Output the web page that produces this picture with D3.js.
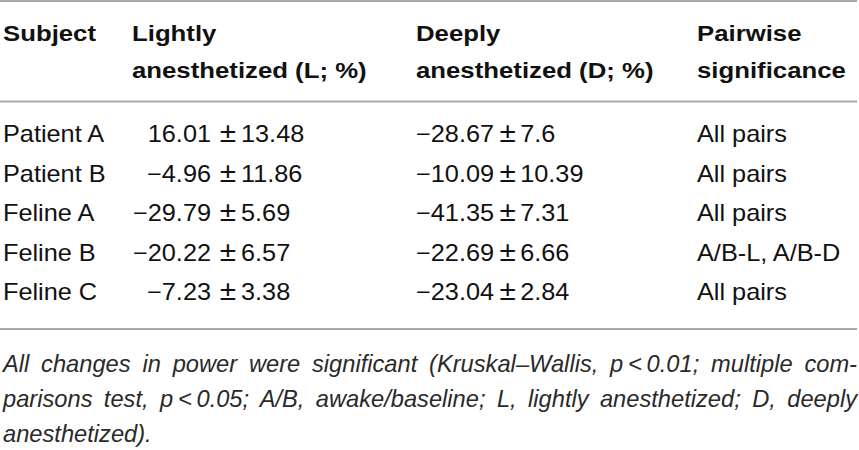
<!DOCTYPE html>
<html>
<head>
<meta charset="utf-8">
<script src="https://cdn.jsdelivr.net/npm/d3@7"></script>
<style>
  html, body { margin: 0; padding: 0; background: #fff; }
  svg { display: block; }
</style>
</head>
<body>
<div id="table"></div>
<script>
// table values
var headers = [["Subject"], ["Lightly", "anesthetized (L; %)"], ["Deeply", "anesthetized (D; %)"], ["Pairwise", "significance"]];
var subjects = ["Patient A", "Patient B", "Feline A", "Feline B", "Feline C"];
var lightMean = [16.01, -4.96, -29.79, -20.22, -7.23];
var lightSD = [13.48, 11.86, 5.69, 6.57, 3.38];
var deepMean = [-28.67, -10.09, -41.35, -22.69, -23.04];
var deepSD = [7.6, 10.39, 7.31, 6.66, 2.84];
var pairwise = ["All pairs", "All pairs", "All pairs", "A/B-L, A/B-D", "All pairs"];
var footnote = [
  "All changes in power were significant (Kruskal\u2013Wallis, p\u2009<\u20090.01; multiple com-",
  "parisons test, p\u2009<\u20090.05; A/B, awake/baseline; L, lightly anesthetized; D, deeply",
  "anesthetized)."
];

var width = 859, height = 450;
var font = "'Liberation Sans', Arial, Helvetica, sans-serif";
var sx = 1.1;    // reference glyphs run a little wide
var footSx = 1.03;

var svg = d3.select("#table").append("svg")
  .attr("width", width)
  .attr("height", height);

// column positions
var colX = [3, 132, 416, 697];
var y = d3.scalePoint().domain(subjects).range([142, 300]);

function num(v) {
  return String(v).replace("-", "\u2212");
}

function put(g, x, yy, txt, anchor, scale) {
  return g.append("text")
    .attr("transform", "translate(" + x + "," + yy + ") scale(" + (scale || sx) + ",1)")
    .attr("text-anchor", anchor || "start")
    .text(txt);
}

// rules
[1, 101.5, 329].forEach(function (ry) {
  svg.append("line")
    .attr("x1", 0).attr("x2", 857)
    .attr("y1", ry).attr("y2", ry)
    .attr("stroke", "#a8a8a8")
    .attr("stroke-width", 2);
});

// header
var head = svg.append("g")
  .style("font", "bold 23px " + font)
  .attr("fill", "#111");
headers.forEach(function (lines, i) {
  lines.forEach(function (l, j) {
    put(head, colX[i], 41 + j * 37, l, "start", 1.12);
  });
});

// body
var body = svg.append("g")
  .style("font", "23px " + font)
  .attr("fill", "#111");

subjects.forEach(function (s, i) {
  var yy = y(s);
  put(body, colX[0], yy, s);
  // lightly column, lined up on the plus-minus sign
  put(body, 211, yy, num(lightMean[i]), "end");
  put(body, 228, yy, "\u00b1", "middle").style("font-size", "27px");
  put(body, 241, yy, num(lightSD[i]));
  // deeply column, left aligned
  var t = put(body, colX[2], yy, num(deepMean[i]));
  t.append("tspan").attr("dx", 5).style("font-size", "27px").text("\u00b1");
  t.append("tspan").attr("dx", 4).text(num(deepSD[i]));
  put(body, colX[3], yy, pairwise[i]);
});

// footnote, justified like the journal layout: stretch the word gaps only
var foot = svg.append("g")
  .style("font", "italic 23px " + font)
  .attr("fill", "#2a2a2a");
footnote.forEach(function (l, i) {
  var t = put(foot, 3, 372 + i * 35, l, "start", footSx);
  if (i < footnote.length - 1) {
    var natural = t.node().getComputedTextLength();
    var gaps = l.split(" ").length - 1;
    var target = 854 / footSx;
    t.style("word-spacing", ((target - natural) / gaps) + "px");
  }
});
</script>
</body>
</html>
